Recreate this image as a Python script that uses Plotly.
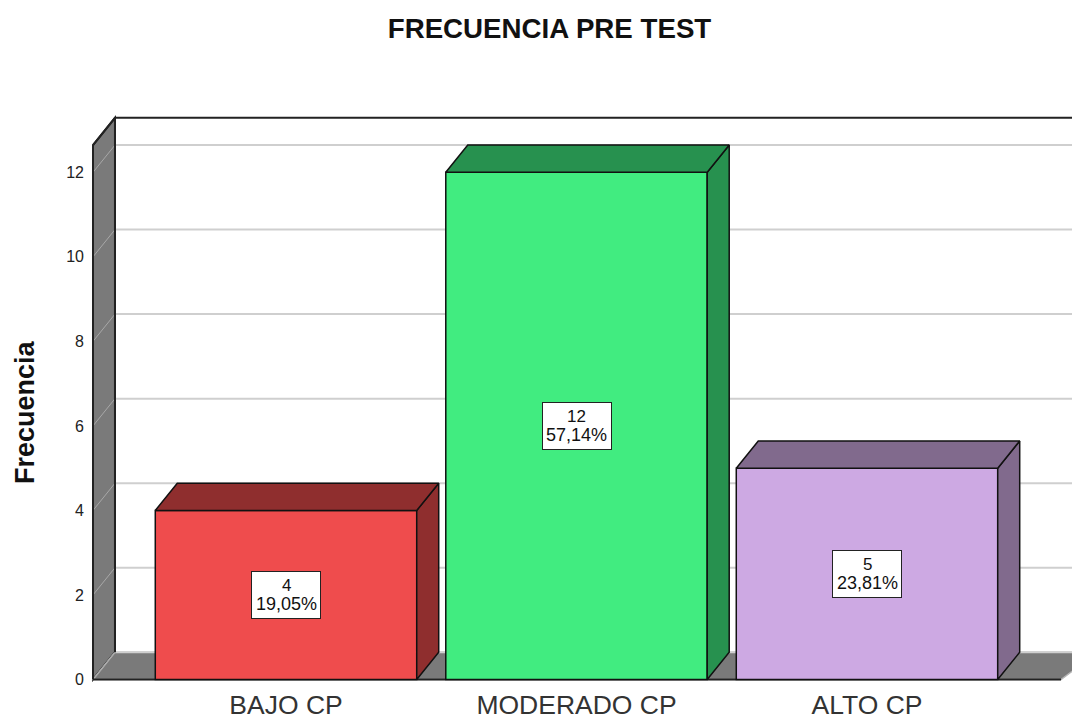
import plotly.graph_objects as go

categories = ["BAJO CP", "MODERADO CP", "ALTO CP"]
counts = [4, 12, 5]
percents = ["19,05%", "57,14%", "23,81%"]
front_colors = ["#EF4C4D", "#41EC80", "#CDA9E3"]
dark_colors = ["#8F2E2E", "#27914F", "#816A8D"]
y_ticks = [0, 2, 4, 6, 8, 10, 12]

BAR_W = 0.9
DX = 0.0757
DY = 0.645
WALL_X = -0.6644
FLOOR_X = 2.668
WALL_TOP = 13.29 - DY
WALL_GREY = "#7A7A7A"
GRID = "#CFCFCF"
FONT = "Liberation Sans, Arial, sans-serif"
M_L, M_T, M_B = 88, 114, 35
PLOT_W, PLOT_H = 1072 - M_L, 718 - M_T - M_B

shapes = []
def poly(xs, ys, fill=None, line="black", w=1.5):
    path = "M " + " L ".join(f"{a},{b}" for a, b in zip(xs, ys))
    if fill:
        path += " Z"
    shapes.append(dict(type="path", path=path, xref="x", yref="y", layer="below",
                       fillcolor=fill or "rgba(0,0,0,0)",
                       line=dict(color=line, width=w)))

XR = 2.72
# left wall and floor
poly([WALL_X, WALL_X + DX, WALL_X + DX, WALL_X],
     [0, DY, WALL_TOP + DY, WALL_TOP], WALL_GREY, "#222222", 2)
poly([WALL_X, WALL_X + DX, XR + DX, FLOOR_X],
     [0, DY, DY, 0], WALL_GREY, "#B5B5B5", 1.5)
# grid lines on back wall, dimmer where they cross the left wall
for t in y_ticks:
    poly([WALL_X + DX, XR], [t + DY, t + DY], None, GRID, 2)
    poly([WALL_X, WALL_X + DX], [t, t + DY], None, "#A8A8A8", 1)
# frame lines
poly([WALL_X + DX, WALL_X + DX], [DY, WALL_TOP + DY], None, "#222222", 2)
poly([WALL_X, WALL_X + DX, XR], [WALL_TOP, WALL_TOP + DY, WALL_TOP + DY], None, "#222222", 2)
poly([WALL_X, WALL_X], [0, WALL_TOP], None, "#222222", 2)
poly([WALL_X, FLOOR_X], [0, 0], None, "#222222", 2)

fig = go.Figure()
fig.add_trace(go.Bar(x=list(range(len(categories))), y=counts, width=BAR_W,
                     marker=dict(color=front_colors, line=dict(color="#111111", width=1.5)),
                     showlegend=False, hoverinfo="skip"))
for i, v in enumerate(counts):
    l, r = i - BAR_W / 2, i + BAR_W / 2
    fig.add_trace(go.Scatter(x=[r, r + DX, r + DX, r, r], y=[0, DY, v + DY, v, 0],
                             mode="lines", fill="toself", fillcolor=dark_colors[i],
                             line=dict(color="#111111", width=1.5), showlegend=False, hoverinfo="skip"))
    fig.add_trace(go.Scatter(x=[l, l + DX, r + DX, r, l], y=[v, v + DY, v + DY, v, v],
                             mode="lines", fill="toself", fillcolor=dark_colors[i],
                             line=dict(color="#111111", width=1.5), showlegend=False, hoverinfo="skip"))

annotations = []
for i, v in enumerate(counts):
    annotations.append(dict(x=i, y=v / 2, xref="x", yref="y", text=" ", showarrow=False,
                            width=68, height=46, bgcolor="white", bordercolor="#222222",
                            borderwidth=1, borderpad=0, font=dict(size=12)))
    annotations.append(dict(x=i, y=v / 2, xref="x", yref="y", text=str(v), showarrow=False,
                            yshift=9.5, font=dict(family=FONT, size=17, color="#111111")))
    annotations.append(dict(x=i, y=v / 2, xref="x", yref="y", text=percents[i], showarrow=False,
                            yshift=-9.5, font=dict(family=FONT, size=18, color="#111111")))
annotations.append(dict(x=(25 - M_L) / PLOT_W, y=(718 - M_B - 412) / PLOT_H, xref="paper", yref="paper",
                        text="<b>Frecuencia</b>", textangle=-90, showarrow=False,
                        xanchor="center", yanchor="middle",
                        font=dict(family=FONT, size=27, color="#111111")))

fig.update_layout(
    width=1072, height=718,
    margin=dict(l=M_L, r=0, t=M_T, b=M_B),
    paper_bgcolor="white", plot_bgcolor="white",
    shapes=shapes, annotations=annotations,
    title=dict(text="<b>FRECUENCIA PRE TEST</b>", x=549.5 / 1072, xanchor="center",
               y=1 - 28 / 718, yanchor="middle", font=dict(family=FONT, size=27.7, color="#111111")),
    xaxis=dict(range=[-0.6816, 2.7057], tickmode="array", tickvals=list(range(len(categories))),
               ticktext=categories, ticks="", showgrid=False, zeroline=False, showline=False,
               automargin=False,
               tickfont=dict(family=FONT, size=26.5, color="#333333"), ticklabelstandoff=3),
    yaxis=dict(range=[-0.083, 13.38], tickmode="array", tickvals=y_ticks, ticks="",
               showgrid=False, zeroline=False, showline=False, automargin=False,
               tickfont=dict(family=FONT, size=16, color="#222222"), ticklabelstandoff=3),
)
fig.write_html("out.html", config=dict(displayModeBar=False),
               post_script="document.body.style.margin='0';document.body.style.overflow='hidden';")
